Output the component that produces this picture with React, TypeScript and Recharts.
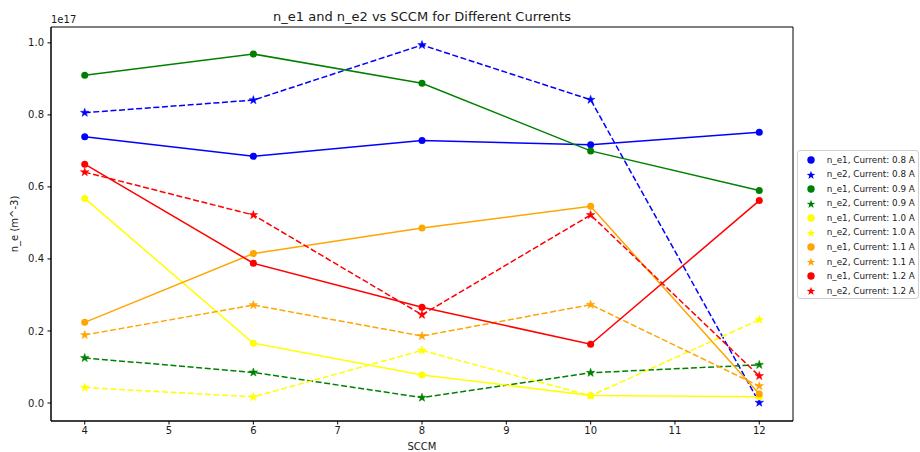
import React from 'react';
import { LineChart, Line, XAxis, YAxis, ReferenceArea, Legend } from 'recharts';

// SCCM values on the x axis
const sccm = [4, 6, 8, 10, 12];
const xTicks = [4, 5, 6, 7, 8, 9, 10, 11, 12];
const yTicks = [0, 0.2, 0.4, 0.6, 0.8, 1.0];

// electron densities, in units of 1e17 m^-3
const ne1_08 = [0.739, 0.685, 0.729, 0.717, 0.752];
const ne2_08 = [0.806, 0.841, 0.994, 0.842, 0.001];
const ne1_09 = [0.910, 0.969, 0.888, 0.700, 0.590];
const ne2_09 = [0.125, 0.085, 0.015, 0.084, 0.106];
const ne1_10 = [0.568, 0.166, 0.078, 0.021, 0.017];
const ne2_10 = [0.043, 0.017, 0.146, 0.020, 0.231];
const ne1_11 = [0.224, 0.415, 0.486, 0.546, 0.025];
const ne2_11 = [0.189, 0.272, 0.186, 0.273, 0.047];
const ne1_12 = [0.663, 0.388, 0.266, 0.163, 0.562];
const ne2_12 = [0.641, 0.522, 0.245, 0.522, 0.075];

const currents = ['0.8', '0.9', '1.0', '1.1', '1.2'];
const colors = ['#0000ff', '#008000', '#ffff00', '#ffa500', '#ff0000'];
const ne1 = [ne1_08, ne1_09, ne1_10, ne1_11, ne1_12];
const ne2 = [ne2_08, ne2_09, ne2_10, ne2_11, ne2_12];

type Series = { key: string; label: string; color: string; star: boolean; values: number[] };

const series: Series[] = currents.flatMap((c, i) => [
  { key: `ne1_${i}`, label: `n_e1, Current: ${c} A`, color: colors[i], star: false, values: ne1[i] },
  { key: `ne2_${i}`, label: `n_e2, Current: ${c} A`, color: colors[i], star: true, values: ne2[i] },
]);

const data = sccm.map((x, j) => {
  const row: Record<string, number> = { sccm: x };
  series.forEach((s) => { row[s.key] = s.values[j]; });
  return row;
});

const FONT = '"DejaVu Sans", sans-serif';
const TEXT = '#1a1a1a';

const starPoints = (cx: number, cy: number, r: number) => {
  const pts: string[] = [];
  const inner = r * 0.4;
  for (let k = 0; k < 10; k++) {
    const rad = k % 2 === 0 ? r : inner;
    const a = -Math.PI / 2 + (k * Math.PI) / 5;
    pts.push(`${cx + rad * Math.cos(a)},${cy + rad * Math.sin(a)}`);
  }
  return pts.join(' ');
};

const makeDot = (color: string, star: boolean) => (props: any) => {
  const { cx, cy, index } = props;
  if (cx == null || cy == null) return <g key={index} />;
  return star ? (
    <polygon key={index} points={starPoints(cx, cy, 4.5)} fill={color} stroke={color} strokeWidth={0.5} />
  ) : (
    <circle key={index} cx={cx} cy={cy} r={3.5} fill={color} />
  );
};

const LegendBox = () => (
  <div
    style={{
      width: 122,
      height: 149,
      boxSizing: 'border-box',
      border: '1px solid #d0d0d0',
      borderRadius: 3,
      background: 'rgba(255,255,255,0.8)',
      paddingTop: 1.7,
      fontFamily: FONT,
      fontSize: 8.8,
      color: TEXT,
    }}
  >
    {series.map((s) => (
      <div key={s.key} style={{ position: 'relative', height: 14.55, lineHeight: '14.55px', whiteSpace: 'nowrap' }}>
        <svg width={12} height={12} style={{ position: 'absolute', left: 7, top: 1.3 }}>
          {s.star ? (
            <polygon points={starPoints(6, 6.3, 4.5)} fill={s.color} />
          ) : (
            <circle cx={6} cy={6} r={3.7} fill={s.color} />
          )}
        </svg>
        <span style={{ position: 'absolute', left: 28.7, top: 0 }}>{s.label}</span>
      </div>
    ))}
  </div>
);

export default function App() {
  return (
    <div style={{ position: 'absolute', left: 0, top: 0, width: 920, height: 452, background: '#fff', fontFamily: FONT }}>
      <div style={{ position: 'absolute', left: 51, width: 742, top: 8.5, lineHeight: '15px', fontSize: 13, textAlign: 'center', color: TEXT }}>
        n_e1 and n_e2 vs SCCM for Different Currents
      </div>
      <div style={{ position: 'absolute', left: 51, top: 14, lineHeight: '12px', fontSize: 10, color: TEXT }}>1e17</div>
      <div
        style={{
          position: 'absolute',
          left: 15,
          top: 224,
          fontSize: 10,
          lineHeight: '12px',
          color: TEXT,
          whiteSpace: 'nowrap',
          transform: 'translate(-50%, -50%) rotate(-90deg)',
        }}
      >
        n_e (m^-3)
      </div>
      <div style={{ position: 'absolute', left: 51, width: 742, top: 441, lineHeight: '12px', fontSize: 10, textAlign: 'center', color: TEXT }}>
        SCCM
      </div>
      <LineChart width={920} height={452} data={data} margin={{ top: 27, right: 127, bottom: 0, left: 0 }}>
        <XAxis
          type="number"
          dataKey="sccm"
          domain={[3.6, 12.4]}
          ticks={xTicks}
          allowDataOverflow
          height={31}
          tickSize={3.5}
          tickMargin={2.5}
          axisLine={{ stroke: '#000', strokeWidth: 1 }}
          tickLine={{ stroke: '#000', strokeWidth: 1 }}
          tick={{ fill: TEXT, fontSize: 10, fontFamily: FONT }}
        />
        <YAxis
          type="number"
          domain={[-0.05, 1.044]}
          ticks={yTicks}
          allowDataOverflow
          width={51}
          tickSize={3.5}
          tickMargin={3.5}
          tickFormatter={(v: number) => v.toFixed(1)}
          axisLine={{ stroke: '#000', strokeWidth: 1 }}
          tickLine={{ stroke: '#000', strokeWidth: 1 }}
          tick={{ fill: TEXT, fontSize: 10, fontFamily: FONT }}
        />
        {series.map((s) => (
          <Line
            key={s.key}
            dataKey={s.key}
            type="linear"
            stroke={s.color}
            strokeWidth={1.5}
            strokeDasharray={s.star ? '6 2.6' : undefined}
            dot={makeDot(s.color, s.star)}
            activeDot={false}
            isAnimationActive={false}
          />
        ))}
        <ReferenceArea x1={3.6} x2={12.4} y1={-0.05} y2={1.044} fill="none" stroke="#000" strokeWidth={1} ifOverflow="visible" />
        <Legend
          layout="vertical"
          align="center"
          verticalAlign="middle"
          content={() => <LegendBox />}
          wrapperStyle={{ left: 797, top: 150, width: 122, height: 149 }}
        />
      </LineChart>
    </div>
  );
}
